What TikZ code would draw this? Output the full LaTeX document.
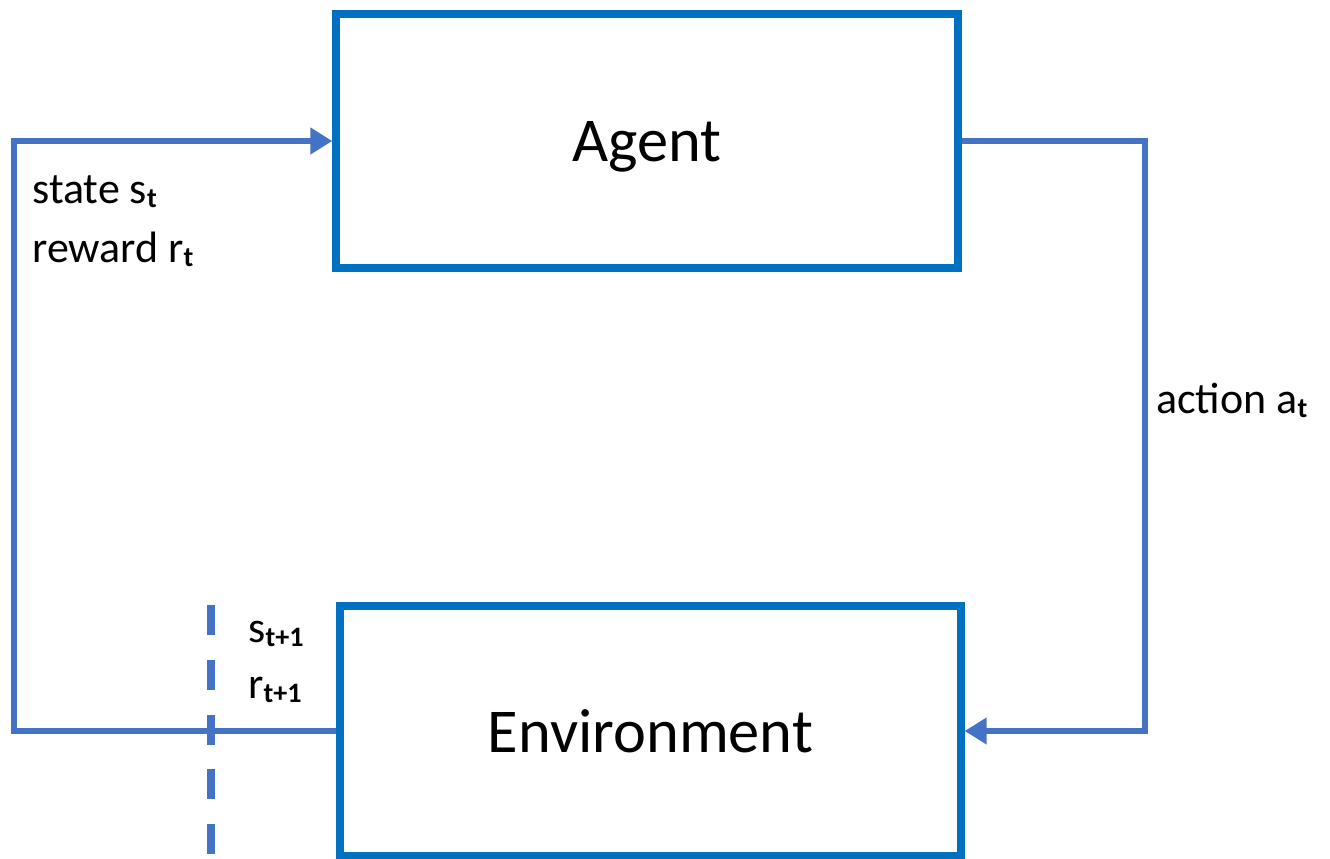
\documentclass[tikz,border=0pt]{standalone}
\usepackage{fontspec}
\setmainfont{Carlito}
\usetikzlibrary{arrows.meta}
\definecolor{boxblue}{HTML}{0070C0}
\definecolor{flowblue}{HTML}{4472C4}
\newcommand{\lowsub}[1]{\raisebox{-2.8pt}{\fontsize{16}{16}\selectfont\bfseries #1}}
\tikzset{
  blockbox/.style={draw=boxblue, line width=4.2pt, rectangle, inner sep=0pt,
    text depth=0pt, font=\fontsize{35.5}{40}\selectfont},
  flow/.style={draw=flowblue, line width=3.9pt},
  tip/.style={-{Triangle[length=12.5pt,width=14.5pt]}},
  lbl/.style={anchor=base west, inner sep=0pt, font=\fontsize{25}{30}\selectfont},
  cut/.style={draw=flowblue, line width=4.1pt, dash pattern=on 17pt off 14.2pt}
}
\begin{document}
\begin{tikzpicture}[x=0.02cm,y=-0.02cm]
\useasboundingbox (0,0) rectangle (1330,859);
\node[blockbox, minimum width=12.44cm, minimum height=5.08cm] (agent) at (647,141) {Agent};
\node[blockbox, minimum width=12.42cm, minimum height=5.0cm] (env) at (650.5,731) {Environment};
\coordinate (lcol) at (14,0);
\coordinate (rcol) at (1145,0);
\draw[flow,tip] (env.west) -- (env.west -| lcol) |- (agent.west);
\draw[flow,tip] (agent.east) -- (agent.east -| rcol) |- (env.east);
\coordinate (d1) at (211,605);
\coordinate (d2) at (211,855);
\draw[cut] (d1) -- (d2);
\node[lbl] (st) at (32,203) {state s\lowsub{t}};
\node[lbl] (rt) at (32,262) {reward r\lowsub{t}};
\node[lbl] (at) at (1156,413) {action a\lowsub{t}};
\node[lbl] (st1) at (248,642) {s\lowsub{t+1}};
\node[lbl] (rt1) at (248,698) {r\lowsub{t+1}};
\end{tikzpicture}
\end{document}
